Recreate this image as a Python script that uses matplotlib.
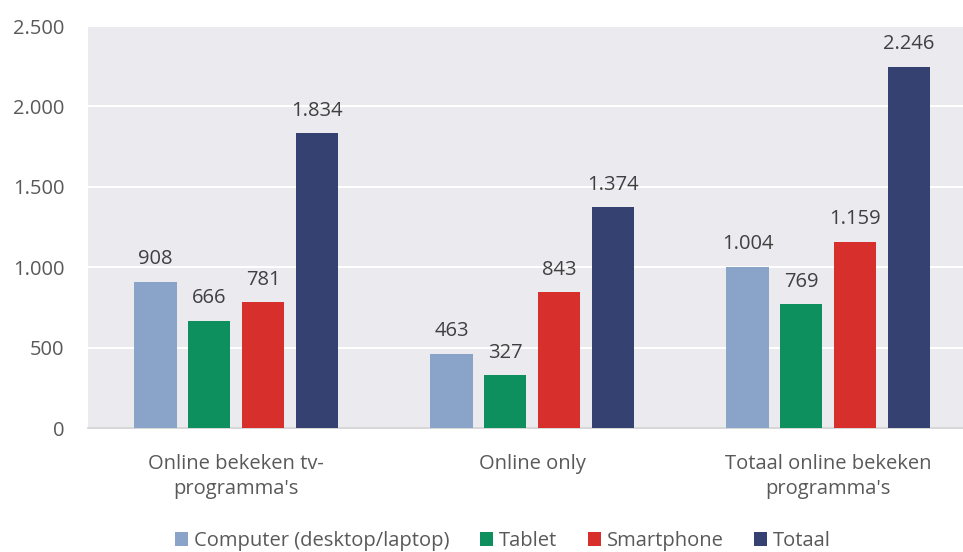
import matplotlib
matplotlib.use('Agg')
import matplotlib.pyplot as plt
import numpy as np

categories = ["Online bekeken tv-\nprogramma's", "Online only", "Totaal online bekeken\nprogramma's"]
series = ['Computer (desktop/laptop)', 'Tablet', 'Smartphone', 'Totaal']
values = [
	[908, 463, 1004],
	[666, 327, 769],
	[781, 843, 1159],
	[1834, 1374, 2246],
]
colors = ['#8aa4c9', '#0e8f5e', '#d7302c', '#354170']
yticks = [0, 500, 1000, 1500, 2000, 2500]

plt.rcParams['font.family'] = ['Open Sans', 'DejaVu Sans']
fs = 14.5

def fmt(v):
	return '{:,}'.format(v).replace(',', '.')

f = plt.figure(figsize=(9.63, 5.52), dpi=100)
ax = f.add_axes([88/963., 1-428/552., 875/963., 402/552.])
ax.set_facecolor('#ebebef')

x = np.arange(len(categories))
width = 0.142
offsets = [-0.272, -0.091, 0.091, 0.272]
for vals, off, col, name in zip(values, offsets, colors, series):
	bars = ax.bar(x + off, vals, width, color=col, label=name, zorder=3)
	for b, v in zip(bars, vals):
		ax.annotate(fmt(v), (b.get_x() + b.get_width()/2, v), xytext=(0, 9),
			textcoords='offset points', ha='center', va='bottom',
			fontsize=fs, color='#404040')

ax.set_xlim(-0.5, 2.456)
ax.set_ylim(0, 2500)
ax.set_yticks(yticks)
ax.set_yticklabels([fmt(t) for t in yticks], fontsize=fs, color='#595959')
ax.set_xticks(x)
ax.set_xticklabels(categories, fontsize=fs, color='#595959', linespacing=1.3)
ax.tick_params(axis='both', length=0)
ax.tick_params(axis='x', pad=19)
ax.tick_params(axis='y', pad=17)
ax.grid(axis='y', color='white', lw=1.5, zorder=1)
for s in ['top', 'right', 'left']:
	ax.spines[s].set_visible(False)
ax.spines['bottom'].set_color('#d0d0d0')
ax.spines['bottom'].set_linewidth(1.2)

leg = f.legend(loc='center', bbox_to_anchor=(503/963., 1-541/552.), ncol=4, frameon=False,
	fontsize=fs, handlelength=0.65, handleheight=0.65, handletextpad=0.3, columnspacing=1.5)
for t in leg.get_texts():
	t.set_color('#595959')

f.savefig('out.png', dpi=100)
